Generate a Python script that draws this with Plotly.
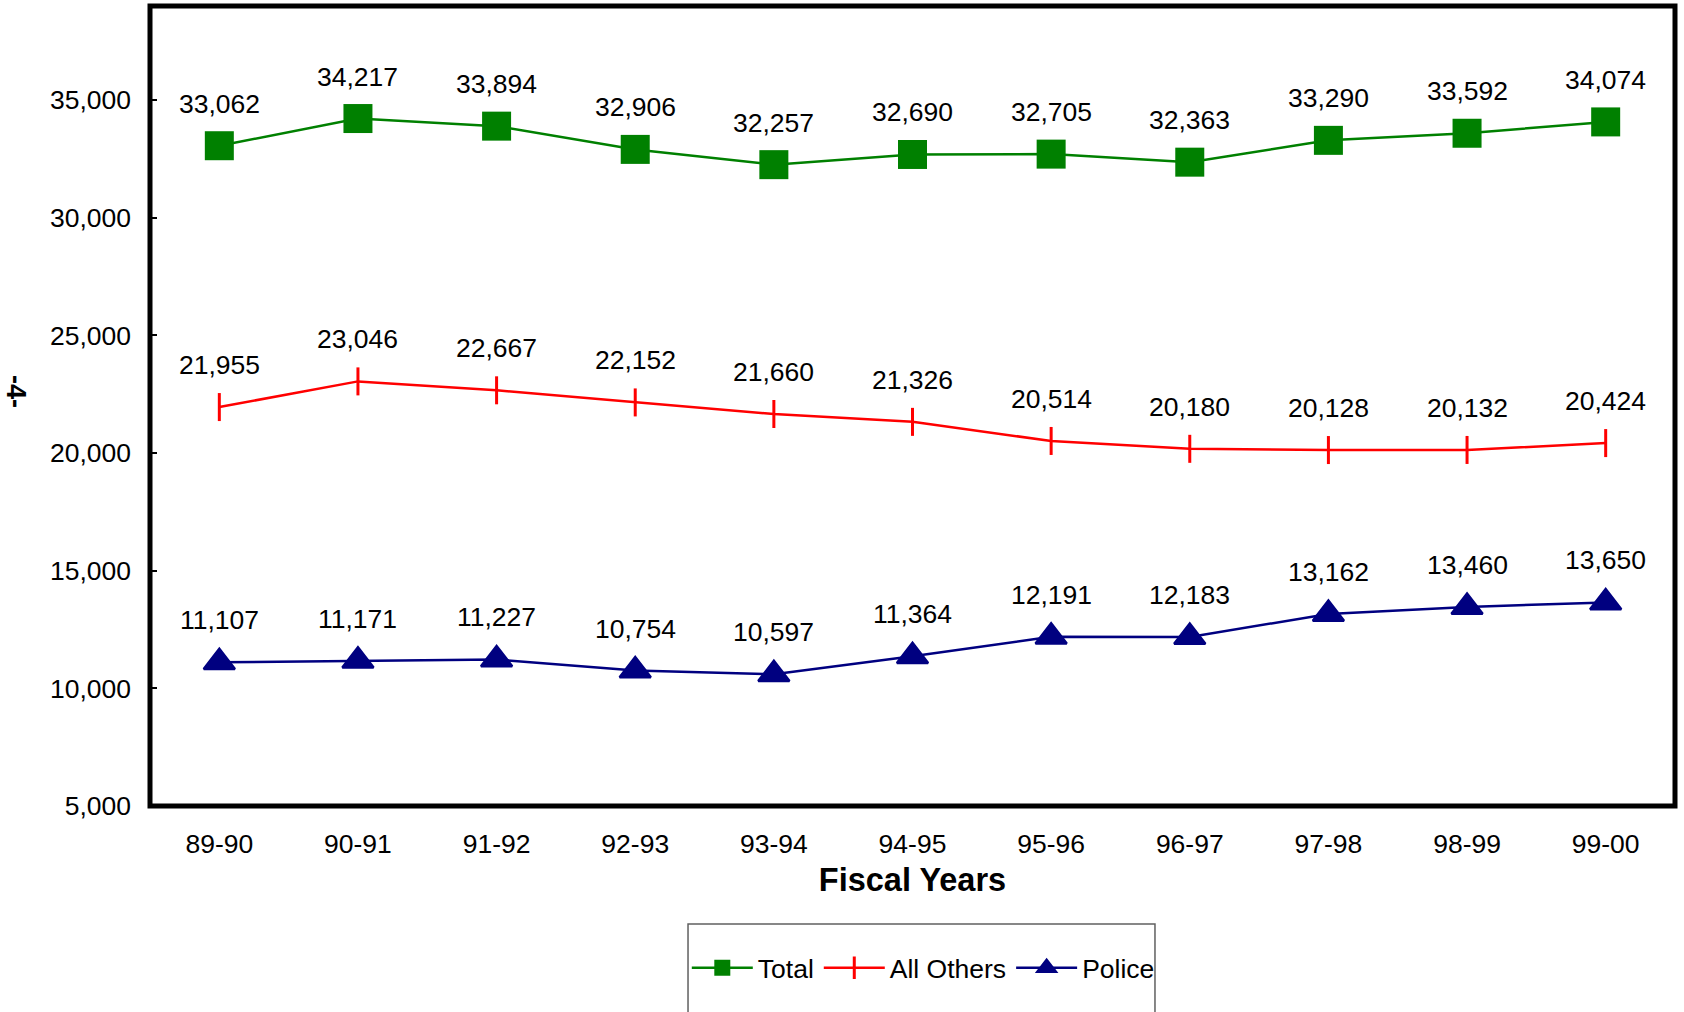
import plotly.graph_objects as go

years = ["89-90", "90-91", "91-92", "92-93", "93-94", "94-95", "95-96", "96-97", "97-98", "98-99", "99-00"]
total = [33062, 34217, 33894, 32906, 32257, 32690, 32705, 32363, 33290, 33592, 34074]
all_others = [21955, 23046, 22667, 22152, 21660, 21326, 20514, 20180, 20128, 20132, 20424]
police = [11107, 11171, 11227, 10754, 10597, 11364, 12191, 12183, 13162, 13460, 13650]
y_ticks = [5000, 10000, 15000, 20000, 25000, 30000, 35000]

FONT = "Liberation Sans, Arial, sans-serif"
FS = 26.5

fig = go.Figure()
fig.add_trace(go.Scatter(x=years, y=total, name="Total", mode="lines+markers",
                         line=dict(color="#008000", width=2.5),
                         marker=dict(symbol="square", size=29, color="#008000")))
fig.add_trace(go.Scatter(x=years, y=all_others, name="All Others", mode="lines+markers",
                         line=dict(color="#FF0000", width=2.5),
                         marker=dict(symbol="line-ns", size=20, color="#FF0000",
                                     line=dict(color="#FF0000", width=3))))
fig.add_trace(go.Scatter(x=years, y=police, name="Police", mode="lines+markers",
                         line=dict(color="#000080", width=2.5),
                         marker=dict(symbol="triangle-up", size=27, color="#000080",
                                     line=dict(color="#000080", width=2.5))))

annotations = []
for series in (total, all_others, police):
    for xv, yv in zip(years, series):
        annotations.append(dict(x=xv, y=yv, xref="x", yref="y", text=f"{yv:,}",
                                showarrow=False, yshift=42, yanchor="middle",
                                font=dict(family=FONT, size=FS, color="black")))
annotations.append(dict(x=-0.0879, y=0.5175, xref="paper", yref="paper", text="<b>-4-</b>",
                        showarrow=False, textangle=90, xanchor="center", yanchor="middle",
                        font=dict(family=FONT, size=27, color="black")))

fig.update_layout(
    width=1684, height=1012,
    margin=dict(l=150, r=9, t=6, b=206),
    paper_bgcolor="white", plot_bgcolor="white",
    font=dict(family=FONT, size=FS, color="black"),
    showlegend=True,
    legend=dict(orientation="h", x=0.352, xanchor="left", y=-0.2025, yanchor="middle",
                font=dict(family=FONT, size=FS, color="black"),
                itemwidth=61, bgcolor="rgba(0,0,0,0)", borderwidth=0, tracegroupgap=0),
    annotations=annotations,
    shapes=[
        dict(type="rect", xref="paper", yref="paper", x0=0, x1=1, y0=0, y1=1,
             line=dict(color="black", width=5), layer="above"),
        dict(type="rect", xref="paper", yref="paper", x0=0.3528, x1=0.659, y0=-0.1475, y1=-0.28,
             line=dict(color="#606060", width=1.5), layer="above"),
    ],
    xaxis=dict(range=[-0.5, 10.5], showgrid=False, zeroline=False, showline=False,
               ticks="", tickfont=dict(family=FONT, size=FS), ticklabelstandoff=19,
               title=dict(text="<b>Fiscal Years</b>", font=dict(family=FONT, size=32.5), standoff=10)),
    yaxis=dict(range=[5000, 39000], tickvals=y_ticks, tickformat=",", showgrid=False,
               zeroline=False, showline=False, ticks="inside", ticklen=7, tickwidth=1.5,
               tickcolor="black", tickfont=dict(family=FONT, size=FS), ticklabelstandoff=18),
)

fig.write_html("out.html")
